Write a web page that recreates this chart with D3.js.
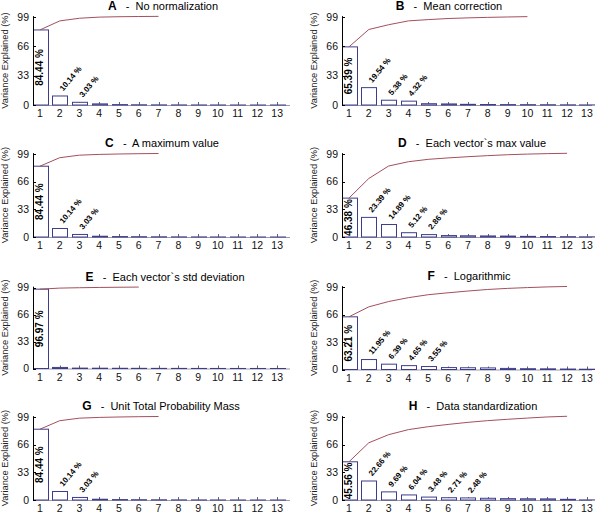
<!DOCTYPE html>
<html><head><meta charset="utf-8">
<script src="https://cdn.jsdelivr.net/npm/d3@7"></script>
<style>body{margin:0;background:#fff} svg{display:block;font-family:Arial,"Liberation Sans",sans-serif}</style>
</head><body><svg id="c" width="600" height="513"></svg>
<script>
const components = [1,2,3,4,5,6,7,8,9,10,11,12,13];
const yTicks = [0,33,66,99];
const yLabel = "Variance Explained (%)";
const panelLetters = ["A","B","C","D","E","F","G","H"];
const panelTitles = ["No normalization","Mean correction","A maximum value","Each vector`s max value",
  "Each vector`s std deviation","Logarithmic","Unit Total Probability Mass","Data standardization"];
const valuesA = [84.44,10.14,3.03,1.25,0.45,0.25,0.15,0.1,0.07,0.05,0.03,0.02,0.01];
const valuesB = [65.39,19.54,5.38,4.32,1.45,1.2,0.75,0.55,0.45,0.38,0.3,0.2,0.09];
const valuesC = [84.44,10.14,3.03,0.9,0.5,0.35,0.25,0.15,0.1,0.06,0.04,0.03,0.01];
const valuesD = [46.38,23.39,14.89,5.12,2.86,1.7,1.45,1.25,1.1,0.75,0.55,0.4,0.2];
const valuesE = [96.97,1.3,0.45,0.35,0.25,0.2,0.15,0.12,0.08,0.05,0.04,0.03,0.01];
const valuesF = [63.21,11.95,6.39,4.65,3.55,2.3,2.1,1.9,1.3,0.95,0.8,0.55,0.35];
const valuesG = [84.44,10.14,3.03,0.9,0.5,0.35,0.25,0.15,0.1,0.06,0.04,0.03,0.01];
const valuesH = [45.56,22.66,9.69,6.04,3.48,2.71,2.48,2.05,1.6,1.45,1.35,0.8,0.1];
const labelCounts = [3,4,3,5,1,5,3,7];
const lineLengths = [7,10,7,12,6,12,7,12];
const panelValues = [valuesA,valuesB,valuesC,valuesD,valuesE,valuesF,valuesG,valuesH];

// layout (pixels)
const layout = [
 {x0:33, x1:290, step:19.77, y0:105, y99:17, tx:163},
 {x0:342, x1:592, step:19.83, y0:105, y99:17, tx:449},
 {x0:33, x1:290, step:19.77, y0:237, y99:154, tx:162},
 {x0:342, x1:592, step:19.83, y0:237, y99:154, tx:472},
 {x0:33, x1:290, step:19.77, y0:368.5, y99:287.5, tx:165},
 {x0:342, x1:592, step:19.83, y0:369.5, y99:287, tx:469},
 {x0:33, x1:290, step:19.77, y0:500, y99:417, tx:161},
 {x0:342, x1:592, step:19.83, y0:500, y99:417, tx:473}
];

const svg = d3.select("#c");
const barStroke = "#3d3d8c", lineColor = "#a3505c";

panelValues.forEach((vals, p) => {
  const L = layout[p];
  const g = svg.append("g");
  const xs = d3.scaleLinear().domain([0.65, 13.65]).range([L.x0, L.x0 + 13*L.step]);
  const ys = d3.scaleLinear().domain([0, 99]).range([L.y0, L.y99]);
  const bw = 0.75*L.step;

  g.append("line").attr("x1", L.x0).attr("x2", L.x1).attr("y1", ys(0)+0.5).attr("y2", ys(0)+0.5)
    .attr("stroke", "#9a9aa6").attr("stroke-width", 1);
  g.selectAll(".xt").data(components).enter().append("line")
    .attr("x1", d => Math.round(xs(d))+0.5).attr("x2", d => Math.round(xs(d))+0.5)
    .attr("y1", ys(0)).attr("y2", ys(0)-3).attr("stroke", "#666");
  g.selectAll(".xl").data(components).enter().append("text")
    .attr("x", d => xs(d)).attr("y", ys(0)+12).attr("text-anchor", "middle")
    .attr("font-size", 10.5).attr("fill", "#111").text(d => d);

  g.selectAll(".bar").data(vals).enter().append("rect")
    .attr("x", (d,i) => Math.round(xs(components[i]) - bw/2)+0.5)
    .attr("y", d => ys(d))
    .attr("width", Math.round(bw))
    .attr("height", d => ys(0) - ys(d))
    .attr("fill", "#fff").attr("stroke", barStroke).attr("stroke-width", 1);

  g.append("line").attr("x1", L.x0+0.5).attr("x2", L.x0+0.5).attr("y1", ys(0)+0.5).attr("y2", ys(100))
    .attr("stroke", "#000").attr("stroke-width", 1);
  g.selectAll(".yt").data(yTicks).enter().append("line")
    .attr("x1", L.x0).attr("x2", L.x0+3)
    .attr("y1", d => Math.round(ys(d))+0.5).attr("y2", d => Math.round(ys(d))+0.5).attr("stroke", "#000");
  g.selectAll(".yl").data(yTicks).enter().append("text")
    .attr("x", L.x0-4).attr("y", d => ys(d)).attr("dy", "0.35em").attr("text-anchor", "end")
    .attr("font-size", 10.5).attr("fill", "#111").text(d => d);

  const cy = (ys(0)+ys(100))/2;
  g.append("text").attr("transform", `translate(${L.x0-28},${cy}) rotate(-90)`)
    .attr("text-anchor", "middle").attr("dy", "0.35em").attr("font-size", 9.3).attr("fill", "#222")
    .text(yLabel);

  const cum = d3.cumsum(vals);
  const pts = components.slice(0, lineLengths[p]).map((c,i) => [xs(c), ys(cum[i])]);
  g.append("path").attr("d", d3.line()(pts)).attr("fill", "none")
    .attr("stroke", lineColor).attr("stroke-width", 1);

  g.append("text")
    .attr("transform", `translate(${xs(1)},${(ys(0)+ys(vals[0]))/2}) rotate(-90)`)
    .attr("text-anchor", "middle").attr("dy", "0.35em")
    .attr("font-size", 10).attr("font-weight", "bold").text(vals[0].toFixed(2) + " %");
  for (let i = 1; i < labelCounts[p]; i++) {
    g.append("text")
      .attr("transform", `translate(${xs(components[i])+3.5},${ys(vals[i])-4.5}) rotate(-50)`)
      .attr("font-size", 8).attr("font-weight", "bold")
      .text(vals[i].toFixed(2) + " %");
  }

  const t = g.append("text").attr("x", L.tx).attr("y", L.y99-7).attr("text-anchor", "middle")
    .attr("font-size", 11).attr("fill", "#000").style("white-space", "pre");
  t.append("tspan").attr("font-weight", "bold").attr("font-size", 12).text(panelLetters[p]);
  t.append("tspan").text("   -  " + panelTitles[p]);
});
</script></body></html>
